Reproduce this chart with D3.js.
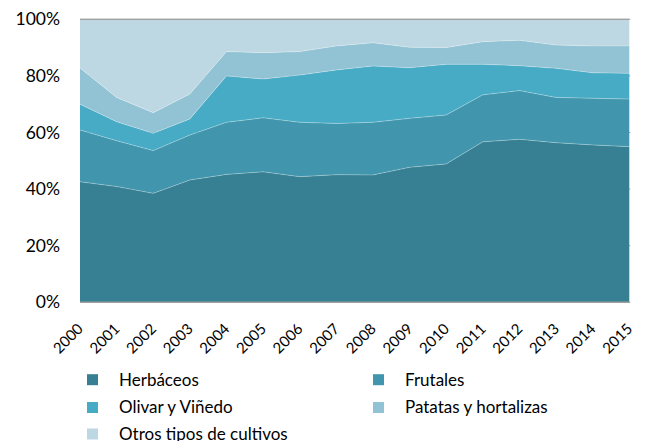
<!DOCTYPE html>
<html>
<head>
<meta charset="utf-8">
<script src="https://cdn.jsdelivr.net/npm/d3@7"></script>
<style>
  html, body { margin: 0; padding: 0; background: #fff; }
  svg { display: block; font-family: Lato, "Open Sans", sans-serif; }
</style>
</head>
<body>
<svg id="chart" width="648" height="441"></svg>
<script>
// Share of cultivated area by crop group, 2000–2015 (percent)
const years = ["2000","2001","2002","2003","2004","2005","2006","2007","2008","2009","2010","2011","2012","2013","2014","2015"];
const herbaceos = [42.6, 40.9, 38.5, 43.2, 45.2, 46.1, 44.4, 45.1, 45.0, 47.7, 48.9, 56.7, 57.6, 56.4, 55.6, 55.0];
const frutales  = [18.3, 16.2, 15.1, 15.9, 18.4, 19.1, 19.2, 18.1, 18.6, 17.3, 17.3, 16.6, 17.2, 16.0, 16.5, 16.8];
const olivar    = [ 9.1,  6.7,  6.1,  5.7, 16.4, 13.7, 16.7, 18.9, 19.9, 17.9, 17.9, 10.8,  8.8, 10.3,  9.0,  9.1];
const patatas   = [12.8,  8.6,  7.3,  8.8,  8.6,  9.3,  8.3,  8.5,  8.2,  7.2,  5.9,  8.0,  9.0,  8.2,  9.5,  9.7];
const otros     = [17.2, 27.6, 33.0, 26.4, 11.4, 11.8, 11.4,  9.4,  8.3,  9.9, 10.0,  7.9,  7.4,  9.1,  9.4,  9.4];
const seriesNames = ["Herbáceos", "Frutales", "Olivar y Viñedo", "Patatas y hortalizas", "Otros tipos de cultivos"];
const yTicks = [0, 20, 40, 60, 80, 100];

const colors = ["#377f93", "#4196ad", "#48abc5", "#92c3d4", "#bdd8e3"];
const seriesValues = [herbaceos, frutales, olivar, patatas, otros];

const rows = years.map((y, i) => {
  const r = { year: y };
  seriesNames.forEach((n, k) => { r[n] = seriesValues[k][i]; });
  return r;
});

const svg = d3.select("#chart");
const x0 = 80, x1 = 629.3, yTop = 19.3, yBot = 302.3;

const x = d3.scalePoint().domain(years).range([x0, x1]);
const y = d3.scaleLinear().domain([0, 100]).range([yBot, yTop]);

// gridlines (mostly hidden behind the filled areas)
svg.append("g").selectAll("line").data(yTicks).join("line")
  .attr("x1", x0).attr("x2", x1 + 1)
  .attr("y1", d => y(d)).attr("y2", d => y(d))
  .attr("stroke", "#a6a6a6").attr("stroke-width", 1);

const stack = d3.stack().keys(seriesNames).offset(d3.stackOffsetExpand);
const layers = stack(rows);

const area = d3.area()
  .x(d => x(d.data.year))
  .y0(d => y(d[0] * 100))
  .y1(d => y(d[1] * 100));

svg.append("g").selectAll("path").data(layers).join("path")
  .attr("d", area)
  .attr("fill", (d, i) => colors[i]);

// thin light separation between layers
const line = d3.line().x(d => x(d.data.year)).y(d => y(d[1] * 100));
svg.append("g").selectAll("path").data(layers.slice(0, 4)).join("path")
  .attr("d", line)
  .attr("fill", "none")
  .attr("stroke", "#ffffff").attr("stroke-opacity", 0.35).attr("stroke-width", 0.8);

// top border and baseline
svg.append("line").attr("x1", x0).attr("x2", x1).attr("y1", y(100)).attr("y2", y(100))
  .attr("stroke", "#a0a0a0").attr("stroke-width", 1.2);
svg.append("line").attr("x1", x0).attr("x2", x1).attr("y1", y(0)).attr("y2", y(0))
  .attr("stroke", "#a0a0a0").attr("stroke-width", 1.5);

// y axis labels
const yAxis = d3.axisLeft(y).tickValues(yTicks).tickFormat(d => d + "%").tickSize(0).tickPadding(0);
const gy = svg.append("g").attr("transform", `translate(${60},0)`).call(yAxis);
gy.select(".domain").remove();
gy.selectAll("text").attr("font-size", 17.5).attr("fill", "#000").attr("font-family", "Lato, sans-serif");

// x axis labels, rotated
const xAxis = d3.axisBottom(x).tickSize(0).tickPadding(0);
const gx = svg.append("g").attr("transform", `translate(0,${yBot})`).call(xAxis);
gx.select(".domain").remove();
gx.selectAll("text")
  .attr("font-size", 15).attr("fill", "#000").attr("font-family", "Lato, sans-serif")
  .attr("text-anchor", "end")
  .attr("dy", 0)
  .attr("y", 0)
  .attr("transform", "translate(3.5,27.5) rotate(-45)");

// legend
const legendPos = [[87, 379.7], [373, 379.7], [87, 407.5], [373, 407.5], [87, 434]];
const lg = svg.append("g").selectAll("g").data(seriesNames).join("g")
  .attr("transform", (d, i) => `translate(${legendPos[i][0]},${legendPos[i][1]})`);
lg.append("rect").attr("x", 0).attr("y", -5.5).attr("width", 11).attr("height", 11)
  .attr("fill", (d, i) => colors[i]);
lg.append("text").attr("x", 32).attr("y", 0).attr("dy", "0.35em")
  .attr("font-size", 17).attr("fill", "#000").text(d => d);
</script>
</body>
</html>
